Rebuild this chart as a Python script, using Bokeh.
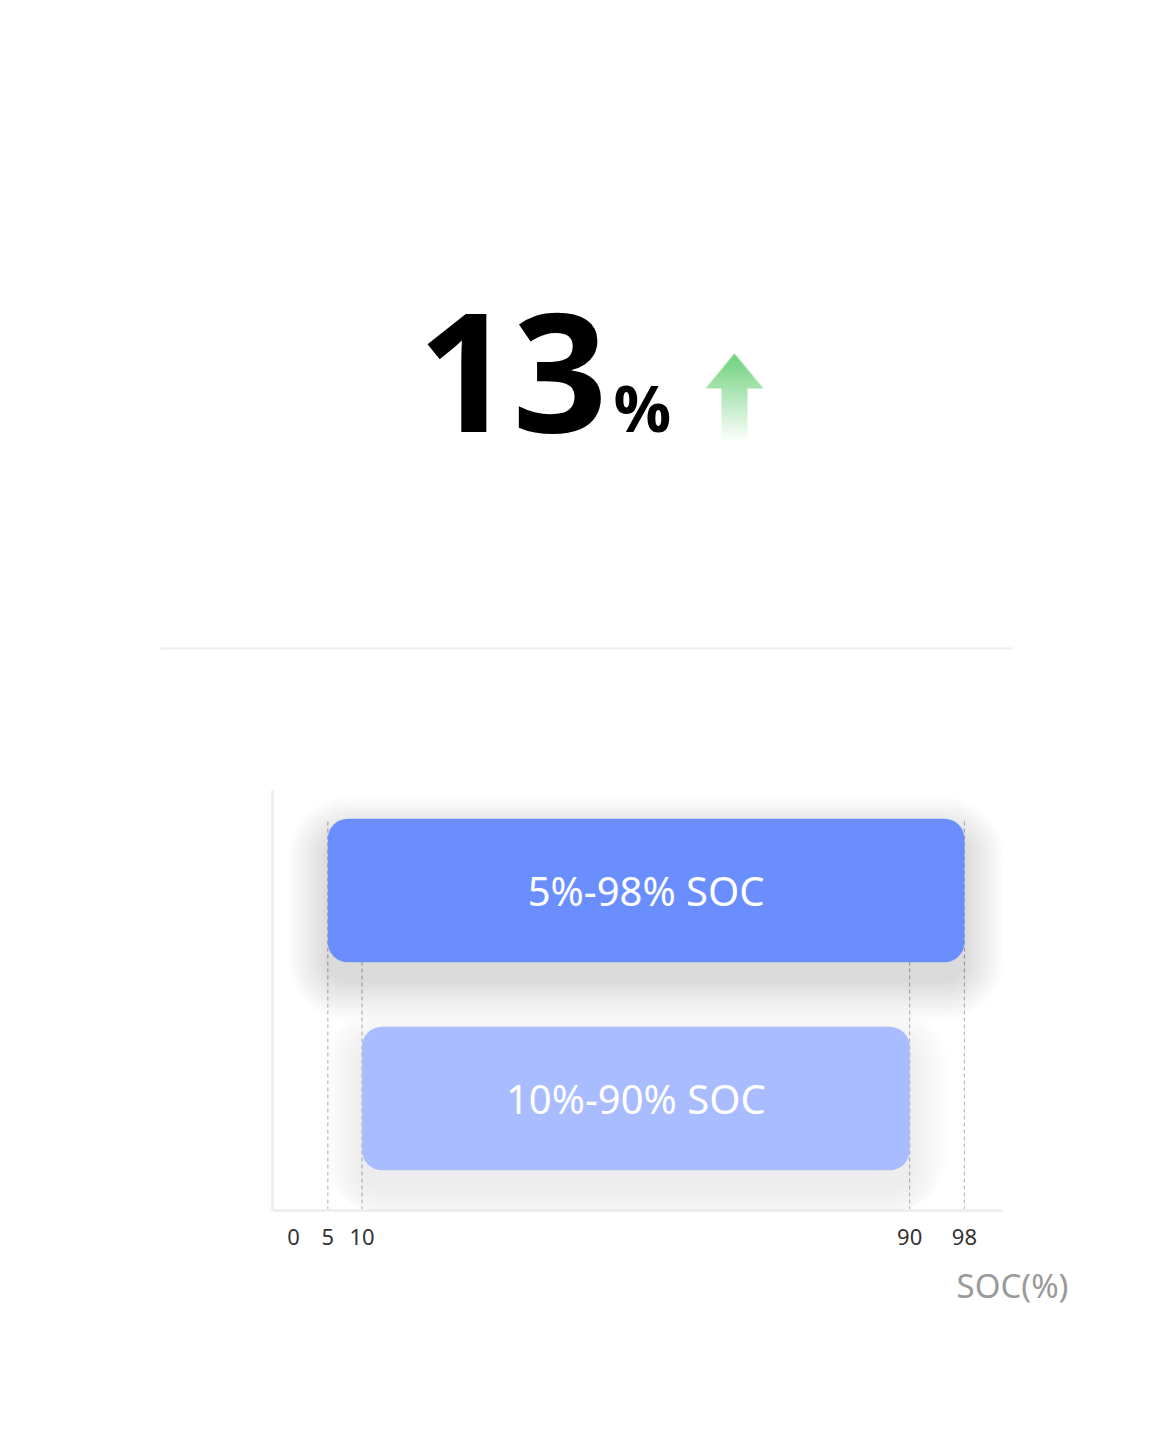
import numpy as np
from bokeh.plotting import figure
from bokeh.models import Range1d, FixedTicker, ColumnDataSource, Title
from bokeh.core.properties import value
from bokeh.embed import file_html
from bokeh.resources import INLINE

# ---------------- data ----------------
increase_pct = 13
bar_labels = ["5%-98% SOC", "10%-90% SOC"]
soc_start = [5, 10]
soc_end = [98, 90]
soc_ticks = [0, 5, 10, 90, 98]
axis_title = "SOC(%)"
bar_colors = ["#6b8eff", "#a9bcff"]

FONT = "Noto Sans"

# ---------------- figure ----------------
# main scales: x in SOC %, y in bar rank units
xr = Range1d(-42.82, 126.65)
yr = Range1d(0.4519, 6.2788)
p = figure(width=1160, height=1424, x_range=xr, y_range=yr, output_backend="svg",
           toolbar_location=None, min_border_left=0, min_border_right=0,
           min_border_top=0, min_border_bottom=212)
p.grid.visible = False
p.outline_line_color = None
p.background_fill_color = "white"
p.border_fill_color = "white"

# header scale (pixel-like, measured upward from the frame bottom)
p.extra_x_ranges = {"hx": Range1d(0, 1160)}
p.extra_y_ranges = {"hy": Range1d(0, 1212)}


def H(v):
    return 1212 - v


hdr = dict(x_range_name="hx", y_range_name="hy")

p.text(x=[607], y=[H(372)], text=[str(increase_pct)], text_align="right",
       text_baseline="middle", text_font=value("Open Sans"), text_font_style="bold",
       text_font_size="166px", text_color="#000000", **hdr)
p.text(x=[613], y=[H(407)], text=["%"], text_align="left",
       text_baseline="middle", text_font=value("Open Sans"), text_font_style="bold",
       text_font_size="64px", text_color="#000000", **hdr)

# green gradient arrow as an RGBA image
x0, y0, W, Hh = 704, 352, 60, 92
s = 4
yy, xx = np.mgrid[0:Hh * s, 0:W * s]
px = x0 + (xx + 0.5) / s
py = y0 + (yy + 0.5) / s
tip_x, tip_y, head_y, half = 734.0, 353.0, 388.0, 29.0
head = (py >= tip_y + np.abs(px - tip_x) * ((head_y - tip_y) / half)) & (py <= head_y)
stem = (px >= 721) & (px <= 747) & (py >= head_y - 1) & (py <= 442)
inside = (head | stem).astype(float)
cov = inside.reshape(Hh, s, W, s).mean(axis=(1, 3))
rows = y0 + np.arange(Hh) + 0.5
grad = np.clip(1 - (rows - tip_y) / 89.0, 0, 1)
alpha = cov * grad[:, None]
img = np.zeros((Hh, W, 4), dtype=np.uint8)
img[..., 0] = 108
img[..., 1] = 208
img[..., 2] = 122
img[..., 3] = (alpha * 255).astype(np.uint8)
img = np.ascontiguousarray(np.flipud(img))
p.image_rgba(image=[img.view(dtype=np.uint32).reshape(Hh, W)], x=x0, y=H(y0 + Hh),
             dw=W, dh=Hh, **hdr)

# separator
p.segment(x0=[160], y0=[H(648)], x1=[1012], y1=[H(648)], line_color="#eeeeee",
          line_width=2, **hdr)

# ---------------- range bars ----------------
n = len(bar_labels)
rank = [n - i for i in range(n)]
bar_h = 0.69
src = ColumnDataSource(dict(y=rank, left=soc_start, right=soc_end, label=bar_labels,
                            color=bar_colors,
                            mid=[(a + b) / 2 for a, b in zip(soc_start, soc_end)]))

xpp = (xr.end - xr.start) / 1160.0   # data units per pixel
ypp = (yr.end - yr.start) / 1212.0

ax_left = -3.08
ax_right = 103.57
ax_bottom = yr.start + 2 * ypp
ax_top = 2.4808

# dashed guide lines at bar edges
edges = sorted(set(soc_start + soc_end))
p.segment(x0=edges, x1=edges, y0=[ax_bottom] * len(edges),
          y1=[max(rank) + bar_h / 2] * len(edges),
          line_color="#bdbdbd", line_width=1.2, line_dash="4 3")

# soft shadows
for k in range(1, 19):
    sp = k * 2.2
    for i in range(n):
        a = 0.007 if i == 0 else 0.004
        p.hbar(y=rank[i] - 18 * ypp, left=soc_start[i] - sp * xpp, right=soc_end[i] + sp * xpp,
               height=bar_h + 2 * sp * ypp, fill_color="black", fill_alpha=a,
               line_color=None, border_radius=int(20 + sp))

p.hbar(y="y", left="left", right="right", height=bar_h, source=src,
       fill_color="color", line_color=None, border_radius=20)
p.text(x="mid", y="y", text="label", source=src, text_align="center",
       text_baseline="middle", text_font=value(FONT), text_font_size="40px",
       text_color="white")

# axis lines
p.segment(x0=[ax_left, ax_left], y0=[ax_bottom, ax_bottom], x1=[ax_right, ax_left],
          y1=[ax_bottom, ax_top], line_color="#eeeeee", line_width=3)

# library axes (labels only)
p.xaxis.ticker = FixedTicker(ticks=soc_ticks)
p.xaxis.axis_line_color = None
p.xaxis.major_tick_line_color = None
p.xaxis.minor_tick_line_color = None
p.xaxis.major_label_text_font = FONT
p.xaxis.major_label_text_font_size = "22px"
p.xaxis.major_label_text_color = "#333333"
p.xaxis.major_label_standoff = 10
p.yaxis.visible = False

p.add_layout(Title(text=axis_title, align="right", offset=92, text_font=FONT,
                   text_font_size="33px", text_font_style="normal",
                   text_color="#9a9a9a", standoff=26), "below")

open("out.html", "w").write(file_html(p, INLINE))
